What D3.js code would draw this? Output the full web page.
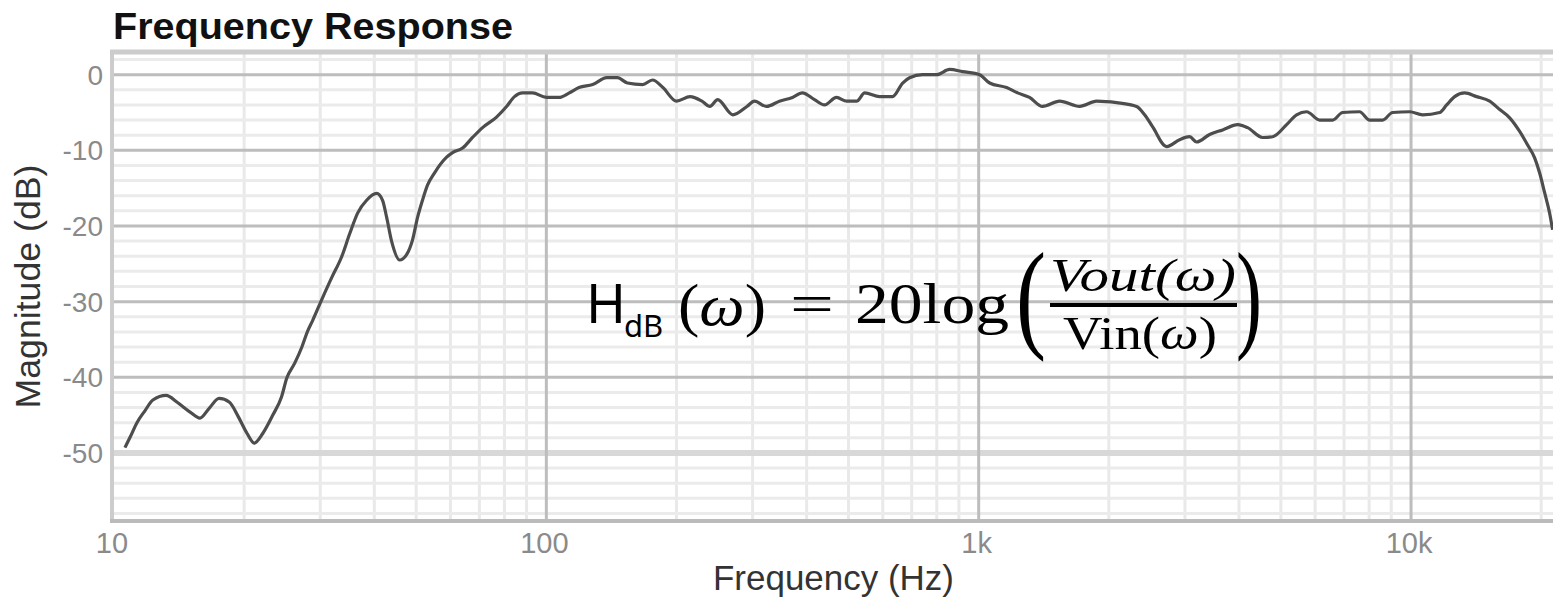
<!DOCTYPE html>
<html>
<head>
<meta charset="utf-8">
<script src="https://cdn.jsdelivr.net/npm/d3@7"></script>
<style>
  body { margin: 0; background: #fff; }
  svg { display: block; }
</style>
</head>
<body>
<div id="chart"></div>
<script>
// values
const freqHz = [10.6, 10.9, 11.3, 11.8, 12.3, 13.2, 14.0, 15.0, 15.8, 16.6, 17.5, 18.5, 19.3, 20.3, 21.1, 22.1,
  23.3, 24.4, 25.1, 26.2, 27.2, 28.0, 28.8, 30.2, 31.9, 33.6, 35.1, 36.6, 38.4, 40.5, 41.8, 42.7, 43.9, 45.8,
  47.5, 49.0, 50.4, 51.7, 53.1, 55.1, 58.8, 60.7, 64.0, 67.5, 71.2, 76.7, 80.9, 84.4, 88.1, 92.9,
  100, 107, 113, 119, 128, 138, 146, 154, 167, 176, 186, 200, 215, 229, 239, 249, 270, 291, 303, 323, 346,
  371, 391, 417, 440, 469, 495, 522, 545, 590, 632, 667, 692, 742, 799, 857, 918,
  1005, 1060, 1160, 1230, 1311, 1405, 1539, 1712, 1874, 2084, 2319, 2420, 2526, 2721, 2915, 3075, 3192,
  3421, 3667, 3972, 4188, 4536, 4786, 5155, 5437, 5735, 6147, 6587, 6947, 7604, 8022, 8597, 9066, 9926,
  10637, 11647, 12090, 12616, 13305, 14185, 15200, 16036, 16912, 17835, 18611, 19316, 19838, 20372, 20920, 21256];
const magDb = [-49.3, -47.9, -46.0, -44.4, -43.0, -42.4, -43.3, -44.6, -45.4, -44.1, -42.8, -43.3, -45.0, -47.4, -48.7, -47.4,
  -45.0, -42.6, -40.1, -38.1, -36.0, -34.0, -32.5, -29.8, -26.8, -24.1, -21.0, -18.3, -16.6, -15.7, -16.6, -18.8, -22.1, -24.5,
  -23.8, -21.9, -18.8, -16.6, -14.6, -13.0, -10.9, -10.3, -9.7, -8.3, -7.0, -5.6, -4.2, -2.9, -2.4, -2.4,
  -3.0, -3.0, -2.4, -1.7, -1.3, -0.4, -0.4, -1.1, -1.3, -0.7, -1.7, -3.5, -2.9, -3.5, -4.2, -3.3, -5.3, -4.2, -3.5, -4.2, -3.5,
  -3.0, -2.4, -3.3, -4.0, -3.0, -3.5, -3.5, -2.4, -2.9, -2.9, -1.1, -0.4, 0, 0, 0.7, 0.4,
  0, -1.1, -1.7, -2.4, -3.0, -4.2, -3.5, -4.2, -3.5, -3.7, -4.2, -5.3, -6.9, -9.5, -8.6, -8.2, -8.9,
  -7.9, -7.3, -6.6, -7.0, -8.3, -8.2, -6.6, -5.3, -4.9, -6.0, -6.0, -5.0, -4.9, -6.0, -6.0, -5.0, -4.9,
  -5.3, -5.0, -4.0, -2.9, -2.4, -2.9, -3.5, -4.6, -5.7, -7.5, -9.3, -11.0, -13.0, -15.6, -18.3, -20.5];

const yMajorTicks = [0, -10, -20, -30, -40, -50];
const xMajorTicks = [10, 100, 1000, 10000];
const xTickLabels = ['10', '100', '1k', '10k'];

const W = 1553, H = 597;
const plot = { left: 114, top: 52, right: 1553, bottom: 521 };

const x = d3.scaleLog().domain([10, 21300]).range([plot.left, plot.right]);
const y = d3.scaleLinear().domain([3, -59]).range([plot.top, plot.bottom]);

const svg = d3.select('#chart')
  .append('svg')
  .attr('width', W)
  .attr('height', H);

svg.append('defs').append('clipPath').attr('id', 'plotclip')
  .append('rect')
  .attr('x', plot.left).attr('y', plot.top)
  .attr('width', plot.right - plot.left).attr('height', plot.bottom - plot.top);

const grid = svg.append('g');

// minor grid
const xMinor = x.ticks().filter(f => !xMajorTicks.includes(f));
const yMinor = d3.range(2, -59, -2).filter(v => v % 10 !== 0);

grid.selectAll('.xminor')
  .data(xMinor)
  .join('line')
  .attr('x1', d => x(d)).attr('x2', d => x(d))
  .attr('y1', plot.top).attr('y2', plot.bottom)
  .attr('stroke', '#e9e9e9')
  .attr('stroke-width', 3);

grid.selectAll('.yminor')
  .data(yMinor)
  .join('line')
  .attr('x1', plot.left).attr('x2', plot.right)
  .attr('y1', d => y(d)).attr('y2', d => y(d))
  .attr('stroke', '#ebebeb')
  .attr('stroke-width', 3);

// major grid
grid.selectAll('.ymajor')
  .data(yMajorTicks)
  .join('line')
  .attr('x1', plot.left).attr('x2', plot.right)
  .attr('y1', d => y(d)).attr('y2', d => y(d))
  .attr('stroke', d => d === -50 ? '#d8d8d8' : '#bdbdbd')
  .attr('stroke-width', d => d === -50 ? 6 : 3);

grid.selectAll('.xmajor')
  .data(xMajorTicks.slice(1))
  .join('line')
  .attr('x1', d => x(d)).attr('x2', d => x(d))
  .attr('y1', plot.top).attr('y2', plot.bottom)
  .attr('stroke', '#bdbdbd')
  .attr('stroke-width', 3);

// frame
grid.append('line')
  .attr('x1', plot.left - 2).attr('x2', plot.left - 2)
  .attr('y1', plot.top).attr('y2', plot.bottom)
  .attr('stroke', '#cccccc').attr('stroke-width', 4);
grid.append('line')
  .attr('x1', plot.left - 4).attr('x2', plot.right)
  .attr('y1', plot.top).attr('y2', plot.top)
  .attr('stroke', '#cccccc').attr('stroke-width', 5);
grid.append('line')
  .attr('x1', plot.left - 4).attr('x2', plot.right)
  .attr('y1', plot.bottom).attr('y2', plot.bottom)
  .attr('stroke', '#bbbbbb').attr('stroke-width', 4);

// response curve
const pts = freqHz.map((f, i) => ({ f, db: magDb[i] }));
const line = d3.line()
  .x(d => x(d.f))
  .y(d => y(d.db))
  .curve(d3.curveMonotoneX);

svg.append('path')
  .datum(pts)
  .attr('clip-path', 'url(#plotclip)')
  .attr('d', line)
  .attr('fill', 'none')
  .attr('stroke', '#4d4d4d')
  .attr('stroke-width', 3.2)
  .attr('stroke-linejoin', 'round');

// tick labels
svg.selectAll('.ylab')
  .data(yMajorTicks)
  .join('text')
  .attr('x', 103)
  .attr('y', d => y(d) + 10)
  .attr('text-anchor', 'end')
  .attr('font-family', 'Liberation Sans, Arial, sans-serif')
  .attr('font-size', 28)
  .attr('fill', '#8a8a8a')
  .text(d => d);

svg.selectAll('.xlab')
  .data(xMajorTicks)
  .join('text')
  .attr('x', d => x(d) - 2)
  .attr('y', 553)
  .attr('text-anchor', 'middle')
  .attr('font-family', 'Liberation Sans, Arial, sans-serif')
  .attr('font-size', 29)
  .attr('fill', '#8a8a8a')
  .text((d, i) => xTickLabels[i]);

// titles
svg.append('text')
  .attr('x', 113).attr('y', 39)
  .attr('font-family', 'Liberation Sans, Arial, sans-serif')
  .attr('font-size', 36)
  .attr('font-weight', 'bold')
  .attr('fill', '#111')
  .attr('textLength', 400)
  .attr('lengthAdjust', 'spacingAndGlyphs')
  .text('Frequency Response');

svg.append('text')
  .attr('x', (plot.left + plot.right) / 2).attr('y', 590)
  .attr('text-anchor', 'middle')
  .attr('font-family', 'Liberation Sans, Arial, sans-serif')
  .attr('font-size', 35)
  .attr('fill', '#333')
  .attr('textLength', 241)
  .attr('lengthAdjust', 'spacingAndGlyphs')
  .text('Frequency (Hz)');

svg.append('text')
  .attr('transform', `translate(40,${(plot.top + plot.bottom) / 2}) rotate(-90)`)
  .attr('text-anchor', 'middle')
  .attr('font-family', 'Liberation Sans, Arial, sans-serif')
  .attr('font-size', 35)
  .attr('fill', '#333')
  .attr('textLength', 244)
  .attr('lengthAdjust', 'spacingAndGlyphs')
  .text('Magnitude (dB)');

// equation overlay
const eq = svg.append('g').attr('fill', '#000');
const serif = 'Liberation Serif, Times New Roman, serif';
const sans = 'Noto Sans, Open Sans, sans-serif';

const hdb = eq.append('text').attr('y', 323).attr('font-family', sans);
hdb.append('tspan').attr('x', 586).attr('font-size', 54).text('H');
hdb.append('tspan').attr('x', 624).attr('dy', 14).attr('font-size', 31).text('dB');

const w1 = eq.append('text').attr('x', 678).attr('y', 325)
  .attr('font-family', serif).attr('font-size', 60)
  .attr('textLength', 88).attr('lengthAdjust', 'spacingAndGlyphs');
w1.append('tspan').text('(');
w1.append('tspan').attr('font-style', 'italic').text('ω');
w1.append('tspan').text(')');

eq.append('text').attr('x', 790).attr('y', 323)
  .attr('font-family', serif).attr('font-size', 56)
  .attr('textLength', 44).attr('lengthAdjust', 'spacingAndGlyphs')
  .text('=');
eq.append('text').attr('x', 855).attr('y', 323)
  .attr('font-family', serif).attr('font-size', 56)
  .attr('textLength', 154).attr('lengthAdjust', 'spacingAndGlyphs')
  .text('20log');

eq.append('text').attr('x', 1016).attr('y', 336)
  .attr('font-family', serif).attr('font-size', 120)
  .attr('textLength', 30).attr('lengthAdjust', 'spacingAndGlyphs')
  .text('(');
eq.append('text').attr('x', 1236).attr('y', 336)
  .attr('font-family', serif).attr('font-size', 120)
  .attr('textLength', 26).attr('lengthAdjust', 'spacingAndGlyphs')
  .text(')');

eq.append('text').attr('x', 1050).attr('y', 291)
  .attr('font-family', serif).attr('font-size', 46)
  .attr('font-style', 'italic')
  .attr('textLength', 186).attr('lengthAdjust', 'spacingAndGlyphs')
  .text('Vout(ω)');
eq.append('line')
  .attr('x1', 1050).attr('x2', 1237)
  .attr('y1', 305).attr('y2', 305)
  .attr('stroke', '#000').attr('stroke-width', 4);
const den = eq.append('text').attr('x', 1063).attr('y', 349)
  .attr('font-family', serif).attr('font-size', 46)
  .attr('textLength', 154).attr('lengthAdjust', 'spacingAndGlyphs');
den.append('tspan').text('Vin(');
den.append('tspan').attr('font-style', 'italic').text('ω');
den.append('tspan').text(')');
</script>
</body>
</html>
